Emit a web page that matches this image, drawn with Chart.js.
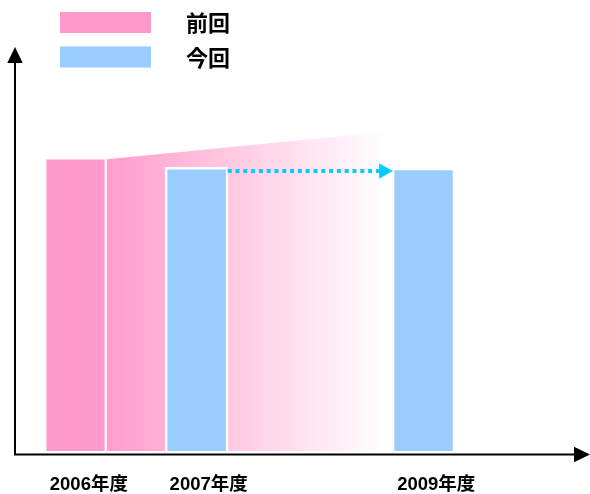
<!DOCTYPE html>
<html>
<head>
<meta charset="utf-8">
<script src="https://cdn.jsdelivr.net/npm/chart.js@4"></script>
<style>
  body { margin: 0; background: #fff; }
  #wrap { width: 590px; height: 494px; }
</style>
</head>
<body>
<div id="wrap"><canvas id="chart"></canvas></div>
<script>
// x positions are in "bar slots" (pink 2006 bar = 0)
var yearLabels = ['2006年度', '2007年度', '2009年度'];
var yearTickPos = [0.22, 2.2, 5.96];
var legendLabels = ['前回', '今回'];

var prevX = [0];
var prevValues = [100];
var curX = [2.0, 5.75];
var curValues = [97.5, 97.2];
// fading band of the 2007 前回 value
var fadeX = [0.515, 5.26];
var fadeValues = [100.2, 109.9];
// dotted arrow
var arrowX = [2.514, 5.09];
var arrowValues = [96.2, 96.2];

var PINK = '#ff99cc';
var BLUE = '#99ccff';
var CYAN = '#00ccff';

function pts(xs, ys) {
	return xs.map(function(x, i) { return { x: x, y: ys[i] }; });
}

var fadeFill = function(ctx) {
	var chart = ctx.chart;
	if (!chart.chartArea) return PINK;
	var sx = chart.scales.x;
	var g = chart.ctx.createLinearGradient(sx.getPixelForValue(fadeX[0]), 0, sx.getPixelForValue(fadeX[1]) - 8, 0);
	g.addColorStop(0, '#ff9dcb');
	g.addColorStop(1, '#ffffff');
	return g;
};

var axesArrows = {
	id: 'axesArrows',
	afterDraw: function(chart) {
		var c = chart.ctx, a = chart.chartArea;
		var ox = a.left, oy = a.bottom + 3.5;
		c.save();
		c.strokeStyle = '#000';
		c.fillStyle = '#000';
		c.lineWidth = 2;
		c.beginPath();
		c.moveTo(ox, oy + 1);
		c.lineTo(ox, 60);
		c.moveTo(ox - 1, oy);
		c.lineTo(576, oy);
		c.stroke();
		c.beginPath();
		c.moveTo(ox, 47);
		c.lineTo(ox - 7.7, 63);
		c.lineTo(ox + 7.7, 63);
		c.closePath();
		c.fill();
		c.beginPath();
		c.moveTo(590, oy);
		c.lineTo(574, oy - 7.7);
		c.lineTo(574, oy + 7.7);
		c.closePath();
		c.fill();
		c.restore();
	}
};

var boxLegend = {
	id: 'boxLegend',
	afterDraw: function(chart) {
		var c = chart.ctx;
		var colors = [PINK, BLUE];
		c.save();
		c.font = 'bold 22px "Noto Sans CJK JP", sans-serif';
		c.textBaseline = 'middle';
		c.textAlign = 'left';
		legendLabels.forEach(function(lbl, i) {
			var y = 12 + i * 34.5;
			c.fillStyle = colors[i];
			c.fillRect(60, y, 91, 21);
			c.fillStyle = '#000';
			c.fillText(lbl, 186, y + 11);
		});
		c.restore();
	}
};

window.onload = function() {
	var ctx = document.getElementById('chart').getContext('2d');
	window.myChart = new Chart(ctx, {
		type: 'bar',
		data: {
			datasets: [{
				type: 'line',
				label: 'arrow',
				data: pts(arrowX, arrowValues),
				borderColor: CYAN,
				borderWidth: 4,
				borderDash: [4, 3.8],
				pointRadius: [0, 9],
				pointHoverRadius: 0,
				pointStyle: 'triangle',
				rotation: 90,
				pointBackgroundColor: CYAN,
				pointBorderWidth: 0,
				fill: false,
				order: 0
			}, {
				label: legendLabels[1],
				data: pts(curX, curValues),
				backgroundColor: BLUE,
				borderColor: '#ffffff',
				borderWidth: 2.6,
				barThickness: 63,
				order: 1
			}, {
				label: legendLabels[0],
				data: pts(prevX, prevValues),
				backgroundColor: PINK,
				barThickness: 57.6,
				order: 2
			}, {
				type: 'line',
				label: 'fade',
				data: pts(fadeX, fadeValues),
				backgroundColor: fadeFill,
				borderWidth: 0,
				pointRadius: 0,
				pointHoverRadius: 0,
				fill: 'origin',
				tension: 0,
				order: 3
			}]
		},
		options: {
			responsive: true,
			maintainAspectRatio: false,
			animation: false,
			grouped: false,
			layout: {
				autoPadding: false,
				padding: { left: 15, right: 0, top: 43.4, bottom: -24.5 }
			},
			plugins: {
				legend: { display: false },
				tooltip: { enabled: false }
			},
			scales: {
				x: {
					type: 'linear',
					min: -1,
					max: 8.5,
					offset: false,
					grid: { display: false, drawTicks: false },
					border: { display: false },
					afterBuildTicks: function(scale) {
						scale.ticks = yearTickPos.map(function(v) { return { value: v }; });
					},
					ticks: {
						autoSkip: false,
						maxRotation: 0,
						padding: 24.5,
						color: '#000',
						font: { family: '"Liberation Sans", "Noto Sans CJK JP", sans-serif', size: 18.5, weight: 'bold', lineHeight: 1 },
						callback: function(v, i) { return yearLabels[i]; }
					}
				},
				y: {
					display: false,
					min: 0,
					max: 140
				}
			}
		},
		plugins: [axesArrows, boxLegend]
	});
};
</script>
</body>
</html>
